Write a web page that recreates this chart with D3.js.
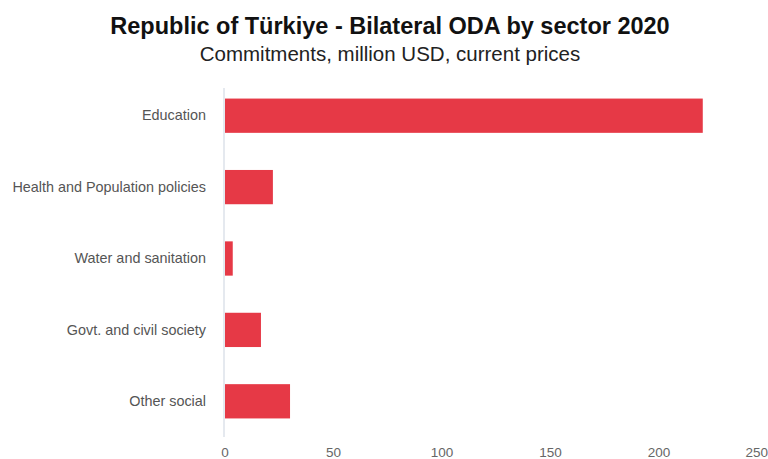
<!DOCTYPE html>
<html>
<head>
<meta charset="utf-8">
<script src="https://cdn.jsdelivr.net/npm/d3@7/dist/d3.min.js"></script>
<style>
  html, body { margin: 0; padding: 0; background: #fff; }
  svg { display: block; font-family: "Liberation Sans", Arial, sans-serif; }
</style>
</head>
<body>
<svg id="chart" width="768" height="459"></svg>
<script>
const categories = ["Education", "Health and Population policies", "Water and sanitation", "Govt. and civil society", "Other social"];
const values = [220.4, 22.3, 3.8, 16.8, 30.2];
const tickValues = [0, 50, 100, 150, 200, 250];
const titleText = "Republic of Türkiye - Bilateral ODA by sector 2020";
const subtitleText = "Commitments, million USD, current prices";

const W = 768, H = 459;
const svg = d3.select("#chart");

const x = d3.scaleLinear().domain([0, 250]).range([224.5, 767]);
const y = d3.scaleBand().domain(categories).range([80, 437]).paddingInner(0.52).paddingOuter(0.26);

svg.append("text").attr("x", 390).attr("y", 34).attr("text-anchor", "middle")
  .attr("font-size", 23.5).attr("font-weight", "bold").attr("fill", "#111").text(titleText);
svg.append("text").attr("x", 390).attr("y", 61).attr("text-anchor", "middle")
  .attr("font-size", 20.5).attr("fill", "#222").text(subtitleText);

// vertical baseline
svg.append("line").attr("x1", x(0) - 0.5).attr("x2", x(0) - 0.5).attr("y1", 88).attr("y2", 437)
  .attr("stroke", "#dde2ea").attr("stroke-width", 1.5);

svg.append("g").selectAll("rect").data(categories).join("rect")
  .attr("x", x(0) + 0.5)
  .attr("y", d => y(d))
  .attr("width", (d, i) => x(values[i]) - x(0) - 0.5)
  .attr("height", y.bandwidth())
  .attr("fill", "#e63946");

// y-axis labels
const yAxis = d3.axisLeft(y).tickSize(0).tickPadding(0);
const gy = svg.append("g").attr("transform", "translate(206,0)").call(yAxis);
gy.select(".domain").remove();
gy.selectAll("text").attr("font-size", 14.4).attr("fill", "#555").attr("font-family", "Liberation Sans, Arial, sans-serif");

// x-axis labels
const xAxis = d3.axisBottom(x).tickValues(tickValues).tickSize(0).tickPadding(0);
const gx = svg.append("g").attr("transform", "translate(0,447)").call(xAxis);
gx.select(".domain").remove();
gx.selectAll("text").attr("font-size", 13.5).attr("fill", "#666").attr("font-family", "Liberation Sans, Arial, sans-serif");
gx.selectAll(".tick text").each(function() {
  const bb = this.getBBox();
  const tick = this.parentNode;
  const tx = +d3.select(tick).attr("transform").match(/translate\(([-\d.]+)/)[1];
  if (tx + bb.x + bb.width > W) {
    d3.select(this).attr("text-anchor", "end").attr("x", W - tx);
  }
});
</script>
</body>
</html>
